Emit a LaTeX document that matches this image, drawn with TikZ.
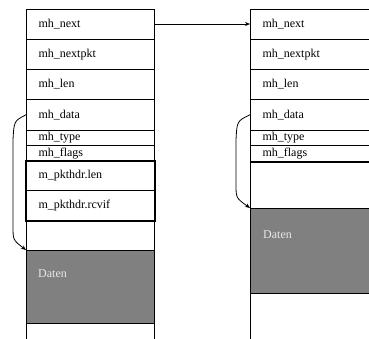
\documentclass[tikz,border=0pt]{standalone}
\usepackage{fontspec}
\setmainfont{Liberation Serif}
\usetikzlibrary{arrows.meta}
\definecolor{datengray}{RGB}{128,128,128}
\definecolor{datentext}{RGB}{232,232,232}
\begin{document}
\begin{tikzpicture}[x=1pt,y=-1pt,
  field/.style={draw=black, line width=1pt, rectangle, anchor=north west,
    minimum width=128pt, text width=104pt, inner xsep=12pt, inner ysep=0pt,
    align=left, font=\fontsize{12}{12}\selectfont},
  datenbox/.style={field, fill=datengray},
  datenlabel/.style={anchor=west, inner sep=0pt, text=datentext,
    font=\fontsize{12}{12}\selectfont},
  link/.style={line width=0.8pt, -{Stealth[length=5pt,width=4pt]}}]
\useasboundingbox (0,0) rectangle (369,338);
\clip (0,0) rectangle (369,338);
% left box
\node[field, minimum height=30pt]   (Lnext)    at (26,8.5)  {mh\_next};
\node[field, minimum height=30.5pt] (Lnextpkt) at (26,38.5) {mh\_nextpkt};
\node[field, minimum height=30pt]   (Llen)     at (26,69)   {mh\_len};
\node[field, minimum height=30.5pt] (Ldata)    at (26,99)   {mh\_data};
\node[field, minimum height=15.5pt] (Ltype)    at (26,129.5){mh\_type};
\node[field, minimum height=15.5pt] (Lflags)   at (26,145)  {mh\_flags};
\node[field, minimum height=29.5pt] (Lplen)    at (26,160.5){m\_pkthdr.len};
\node[field, minimum height=30pt]   (Lrcvif)   at (26,190)  {m\_pkthdr.rcvif};
\node[field, minimum height=30pt]   (Lblank)   at (26,220)  {};
\node[datenbox, minimum height=73pt] (Ldaten)  at (26,250)  {};
\node[field, minimum height=20pt]   (Lend)     at (26,323)  {};
\node[datenlabel] (Ldatentext) at (38,274) {Daten};
\draw[line width=2pt] (Lplen.north west) rectangle (Lrcvif.south east);
% right box
\node[field, minimum height=30pt]   (Rnext)    at (250,8.5)  {mh\_next};
\node[field, minimum height=30.5pt] (Rnextpkt) at (250,38.5) {mh\_nextpkt};
\node[field, minimum height=30pt]   (Rlen)     at (250,69)   {mh\_len};
\node[field, minimum height=30.5pt] (Rdata)    at (250,99)   {mh\_data};
\node[field, minimum height=15.5pt] (Rtype)    at (250,129.5){mh\_type};
\node[field, minimum height=15.5pt] (Rflags)   at (250,145)  {mh\_flags};
\node[field, minimum height=47.5pt] (Rblank)   at (250,160.5){};
\node[datenbox, minimum height=85pt] (Rdaten)  at (250,208)  {};
\node[field, minimum height=50pt]   (Rend)     at (250,293)  {};
\node[datenlabel] (Rdatentext) at (263,235) {Daten};
\draw[line width=2pt] (Rflags.south west) -- ++(130,0);
% connectors
\draw[link] (Lnext.east) -- (Rnext.west);
\draw[link] (Ldata.west) .. controls (14,121) .. (13,140) -- (13,226)
  .. controls (13,240) .. (Ldaten.north west);
\draw[link] (Rdata.west) .. controls (237,121) .. (236,140) -- (236,184)
  .. controls (236,198) .. (Rdaten.north west);
\end{tikzpicture}
\end{document}
